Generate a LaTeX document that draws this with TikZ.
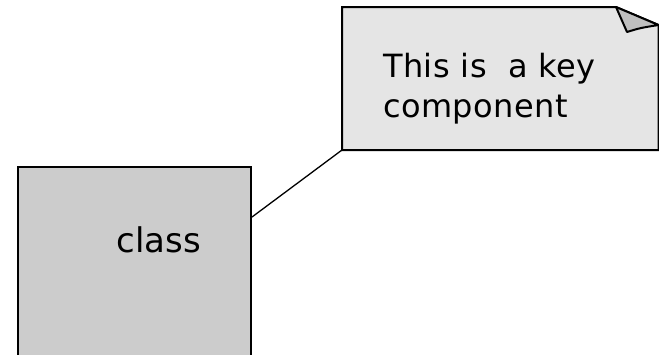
\documentclass[tikz,border=0pt]{standalone}
\usepackage{fontspec}
\setmainfont{DejaVu Sans}
\usetikzlibrary{positioning}

\tikzset{
  classbox/.style={draw=black,line width=2pt,fill=black!20,rectangle,minimum width=233pt,minimum height=200pt,inner sep=0pt,anchor=north west},
  classtext/.style={font=\fontsize{34pt}{40pt}\selectfont,inner sep=0pt},
  notetext/.style={font=\fontsize{32pt}{40pt}\selectfont,inner sep=0pt,align=left}
}

\begin{document}
\begin{tikzpicture}[x=1pt,y=-1pt]
            \useasboundingbox (0,0) rectangle (659,354);
            \clip (0,0) rectangle (659,354);
            \node[classbox] (cls) at (17,166) {};
            \node[classtext,anchor=base] (clsname) at (158.5,252) {class};

            \filldraw[fill=black!10,line width=2pt] (342,7) -- (616,7) -- (658.5,25) -- (658.5,150) -- (342,150) -- cycle;
            \filldraw[fill=black!25,line width=2pt,line join=round] (616,7) -- (627,32) .. controls (640,28) .. (658.5,25) -- cycle;
            \node[notetext,anchor=base west] (note) at (383,117) {\addfontfeature{LetterSpace=1.5}This is\ \ a key\\\addfontfeature{LetterSpace=1.5}component};

            \coordinate (notecorner) at (342,150);
            \coordinate (clsport) at (cls.east |- 0,217);
            \draw[line width=1.3pt] (clsport) -- (notecorner);
        \end{tikzpicture}
\end{document}
